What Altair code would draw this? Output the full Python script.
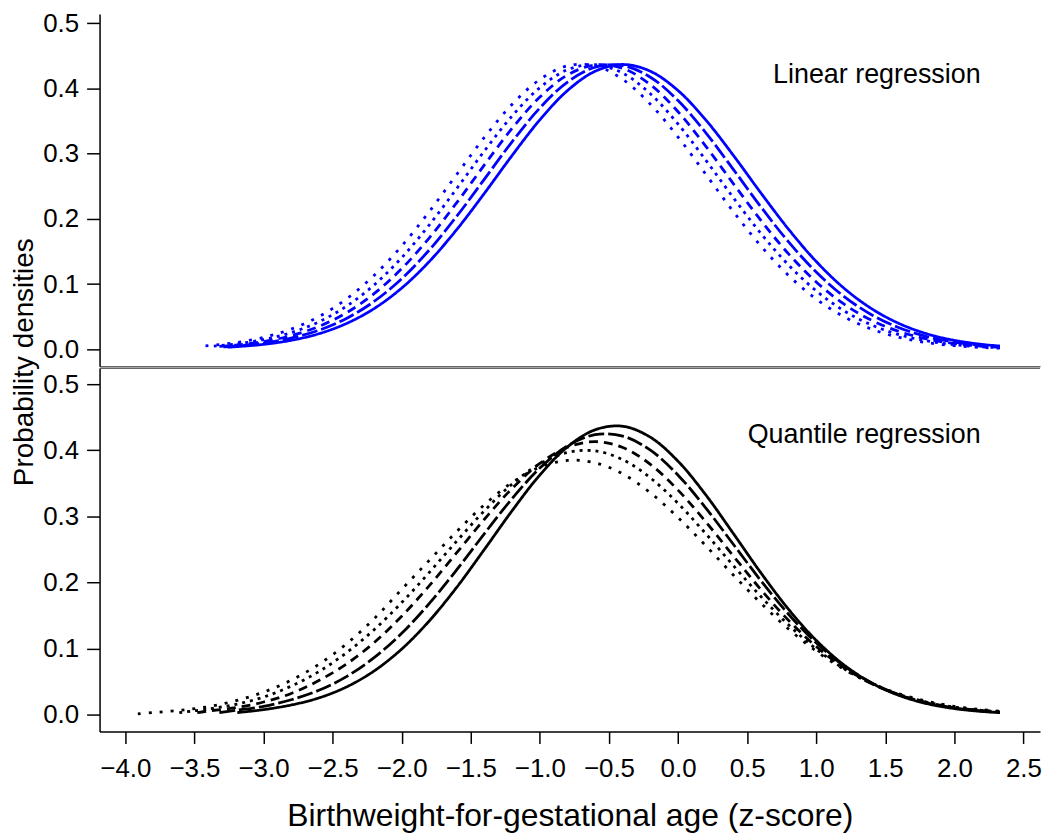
import altair as alt
import pandas as pd

# ---------------- data ----------------
STYLES = ["solid", "long dash", "dash", "dense dot", "dotted"]
DASHES = [[1, 0], [16, 4], [9, 6], [3, 5], [3, 8]]

GRID = [-3.8, -3.6, -3.4, -3.2, -3.0, -2.8, -2.6, -2.4, -2.2, -2.0, -1.8, -1.6,
        -1.4, -1.2, -1.0, -0.8, -0.6, -0.4, -0.2, 0.0, 0.2, 0.4, 0.6, 0.8, 1.0,
        1.2, 1.4, 1.6, 1.8, 2.0, 2.2]
X_END = 2.33

# Linear regression panel (blue)
TOP_START = [-3.26, -3.29, -3.32, -3.36, -3.42]
TOP_FIRST = [-3.2, -3.2, -3.2, -3.2, -3.2]
TOP_SOLID = [0.0032, 0.0040, 0.0076, 0.0138, 0.0239, 0.0396, 0.0625, 0.0940, 0.1348, 0.1842,
             0.2398, 0.2977, 0.3521, 0.3970, 0.4266, 0.4370, 0.4266, 0.3970, 0.3521, 0.2977,
             0.2398, 0.1842, 0.1348, 0.0940, 0.0625, 0.0396, 0.0239, 0.0138, 0.0076, 0.0050]
TOP_LONGDASH = [0.0038, 0.0051, 0.0096, 0.0171, 0.0292, 0.0474, 0.0734, 0.1084, 0.1525, 0.2046,
                0.2616, 0.3188, 0.3703, 0.4100, 0.4328, 0.4354, 0.4175, 0.3816, 0.3325, 0.2761,
                0.2185, 0.1648, 0.1186, 0.0813, 0.0531, 0.0331, 0.0196, 0.0111, 0.0060, 0.0039]
TOP_DASH = [0.0044, 0.0065, 0.0119, 0.0209, 0.0351, 0.0561, 0.0853, 0.1238, 0.1711, 0.2255,
            0.2833, 0.3392, 0.3870, 0.4209, 0.4363, 0.4311, 0.4060, 0.3645, 0.3118, 0.2543,
            0.1977, 0.1464, 0.1034, 0.0696, 0.0446, 0.0273, 0.0159, 0.0088, 0.0047, 0.0030]
TOP_DENSEDOT = [0.0050, 0.0082, 0.0149, 0.0256, 0.0421, 0.0661, 0.0987, 0.1406, 0.1910, 0.2471,
                0.3048, 0.3583, 0.4015, 0.4289, 0.4367, 0.4238, 0.3920, 0.3457, 0.2905, 0.2327,
                0.1777, 0.1293, 0.0897, 0.0593, 0.0374, 0.0224, 0.0129, 0.0071, 0.0037, 0.0024]
TOP_DOTTED = [0.0052, 0.0103, 0.0183, 0.0310, 0.0501, 0.0772, 0.1133, 0.1585, 0.2114, 0.2688,
              0.3257, 0.3761, 0.4140, 0.4350, 0.4350, 0.4140, 0.3761, 0.3257, 0.2688, 0.2114,
              0.1585, 0.1133, 0.0772, 0.0501, 0.0310, 0.0183, 0.0103, 0.0055, 0.0028, 0.0018]

# Quantile regression panel (black)
BOT_START = [-3.19, -3.32, -3.48, -3.61, -3.91]
BOT_FIRST = [-3.0, -3.2, -3.4, -3.4, -3.8]
BOT_SOLID = [0.0030, 0.0075, 0.0145, 0.0252, 0.0418, 0.0660, 0.0992, 0.1419, 0.1931, 0.2504,
             0.3088, 0.3626, 0.4052, 0.4310, 0.4363, 0.4197, 0.3834, 0.3327, 0.2741, 0.2144,
             0.1593, 0.1124, 0.0753, 0.0479, 0.0290, 0.0166, 0.0091, 0.0047, 0.0030]
BOT_LONGDASH = [0.0030, 0.0065, 0.0125, 0.0224, 0.0367, 0.0575, 0.0861, 0.1230, 0.1682, 0.2196,
                0.2742, 0.3271, 0.3730, 0.4066, 0.4235, 0.4214, 0.4001, 0.3623, 0.3129, 0.2578,
                0.2026, 0.1519, 0.1086, 0.0740, 0.0481, 0.0299, 0.0177, 0.0100, 0.0054, 0.0035]
BOT_DASH = [0.0030, 0.0055, 0.0105, 0.0190, 0.0320, 0.0515, 0.0765, 0.1089, 0.1489, 0.1952,
            0.2454, 0.2960, 0.3424, 0.3800, 0.4045, 0.4130, 0.4041, 0.3787, 0.3397, 0.2919,
            0.2401, 0.1891, 0.1426, 0.1030, 0.0712, 0.0472, 0.0299, 0.0181, 0.0105, 0.0059,
            0.0039]
BOT_DENSEDOT = [0.0030, 0.0085, 0.0155, 0.0265, 0.0430, 0.0650, 0.0936, 0.1284, 0.1695, 0.2152,
                0.2629, 0.3088, 0.3490, 0.3794, 0.3967, 0.3990, 0.3857, 0.3582, 0.3196, 0.2740,
                0.2256, 0.1786, 0.1358, 0.0992, 0.0696, 0.0470, 0.0304, 0.0189, 0.0113, 0.0065,
                0.0044]
BOT_DOTTED = [0.0010, 0.0030, 0.0065, 0.0120, 0.0210, 0.0340, 0.0520, 0.0760, 0.1070, 0.1450,
              0.1895, 0.2335, 0.2774, 0.3179, 0.3512, 0.3743, 0.3846, 0.3811, 0.3642, 0.3356,
              0.2983, 0.2557, 0.2113, 0.1685, 0.1295, 0.0960, 0.0686, 0.0473, 0.0315, 0.0202,
              0.0125, 0.0074, 0.0052]

X_TICKS = [-4.0, -3.5, -3.0, -2.5, -2.0, -1.5, -1.0, -0.5, 0.0, 0.5, 1.0, 1.5, 2.0, 2.5]
Y_TICKS = [0.0, 0.1, 0.2, 0.3, 0.4, 0.5]
TOP_LABEL = "Linear regression"
BOT_LABEL = "Quantile regression"
X_TITLE = "Birthweight-for-gestational age (z-score)"
Y_TITLE = "Probability densities"


def build(starts, firsts, ys_list):
    rows = []
    for style, s, f, ys in zip(STYLES, starts, firsts, ys_list):
        xs = [s] + [g for g in GRID if g >= f - 1e-9] + [X_END]
        assert len(xs) == len(ys), (style, len(xs), len(ys))
        for x, y in zip(xs, ys):
            rows.append({"x": x, "y": y, "style": style})
    return pd.DataFrame(rows)


top_df = build(TOP_START, TOP_FIRST,
               [TOP_SOLID, TOP_LONGDASH, TOP_DASH, TOP_DENSEDOT, TOP_DOTTED])
bot_df = build(BOT_START, BOT_FIRST,
               [BOT_SOLID, BOT_LONGDASH, BOT_DASH, BOT_DENSEDOT, BOT_DOTTED])

# ---------------- layout ----------------
FONT = "Liberation Sans"
W = 945
H_TOP = 354
H_BOT = 365

x_scale = alt.Scale(domain=[-4.187, 2.62], nice=False, zero=False)
y_top = alt.Scale(domain=[-0.026, 0.5145], nice=False, zero=False)
y_bot = alt.Scale(domain=[-0.0256, 0.5241], nice=False, zero=False)

y_axis = alt.Axis(values=Y_TICKS, format=".1f", tickSize=13, labelPadding=8, title=None,
                  grid=False)
dash_enc = alt.StrokeDash("style:N", scale=alt.Scale(domain=STYLES, range=DASHES), legend=None)


def panel(df, color, yscale, xaxis, label, label_y):
    lines = alt.Chart(df).mark_line(color=color, strokeWidth=2.8,
                                    interpolate="catmull-rom").encode(
        x=alt.X("x:Q", scale=x_scale, axis=xaxis),
        y=alt.Y("y:Q", scale=yscale, axis=y_axis),
        strokeDash=dash_enc,
        detail="style:N",
    )
    txt = alt.Chart(pd.DataFrame({"x": [2.19], "y": [label_y], "t": [label]})).mark_text(
        align="right", baseline="alphabetic", font=FONT, fontSize=27, color="black"
    ).encode(x=alt.X("x:Q", scale=x_scale), y=alt.Y("y:Q", scale=yscale), text="t:N")
    return lines, txt


top_lines, top_txt = panel(
    top_df, "#0000ff", y_top,
    alt.Axis(labels=False, ticks=False, domain=True, title=None, grid=False,
             domainColor="#333333", domainWidth=1.2),
    TOP_LABEL, 0.408)

ytitle = alt.Chart(pd.DataFrame({"t": [Y_TITLE]})).mark_text(
    angle=270, align="center", baseline="middle", font=FONT, fontSize=28, color="black"
).encode(text="t:N", x=alt.value(-75), y=alt.value(350))

top = alt.layer(top_lines, top_txt, ytitle).properties(width=W, height=H_TOP)

bot_lines, bot_txt = panel(
    bot_df, "black", y_bot,
    alt.Axis(values=X_TICKS, format=".1f", tickSize=12, labelPadding=12, title=X_TITLE,
             titleFontSize=32, titlePadding=19, grid=False),
    BOT_LABEL, 0.411)

sep = alt.Chart(pd.DataFrame({"a": [0]})).mark_rule(color="#333333", strokeWidth=1.2).encode(
    y=alt.value(0), x=alt.value(0), x2=alt.value(W))

bottom = alt.layer(sep, bot_lines, bot_txt).properties(width=W, height=H_BOT)

chart = (
    alt.vconcat(top, bottom, spacing=2, bounds="flush")
    .resolve_scale(x="independent", y="independent")
    .properties(padding={"left": 3, "top": 0, "right": 0, "bottom": 0})
    .configure_view(stroke=None)
    .configure_axis(
        labelFont=FONT, labelFontSize=26, labelColor="black",
        titleFont=FONT, titleFontWeight="normal", titleColor="black",
        domainColor="black", domainWidth=1.5, tickColor="black", tickWidth=1.5,
    )
)

chart.save("out.html", embed_options={"renderer": "svg", "actions": False})
